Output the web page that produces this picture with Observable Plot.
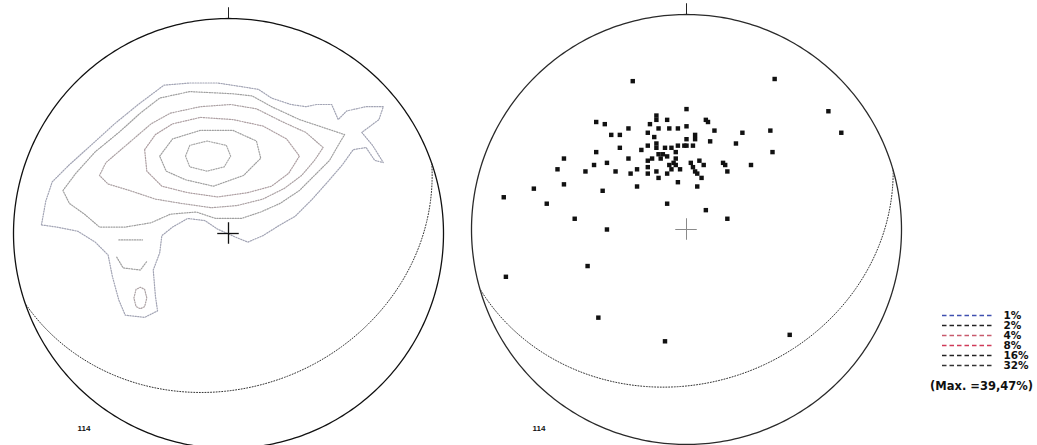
<!DOCTYPE html>
<html>
<head>
<meta charset="utf-8">
<script src="https://cdn.jsdelivr.net/npm/d3@7"></script>
<script src="https://cdn.jsdelivr.net/npm/@observablehq/plot@0.6"></script>
<style>
  html, body { margin: 0; padding: 0; background: #fff; width: 1037px; height: 445px; overflow: hidden; }
  #root { position: relative; width: 1037px; height: 445px; }
  .net { position: absolute; top: 0; }
  #legend { position: absolute; left: 930px; top: 305px; }
  #maxlabel { position: absolute; left: 930px; top: 379px; font: bold 11.5px "DejaVu Sans", sans-serif; color: #111; white-space: nowrap; }
</style>
</head>
<body>
<div id="root"></div>
<script>
// ---------------- data ----------------
const levels = ["1%", "2%", "4%", "8%", "16%", "32%"];
const legendColors = ["#3f4fb0", "#222222", "#c85a6c", "#d03a58", "#222222", "#333333"];
const contourColors = ["#a2a4b4", "#a0a0a0", "#aca2a4", "#ad9fa2", "#a0a0a0", "#a8a8a8"];
const maxLabel = "(Max. =39,47%)";
const countLabel = "114";

// plane (great circle) of each net: dip direction and dip, degrees
const planeDipDirection = [161, 164];
const planeDip = [29, 29];

// contour lines of the left net, in net units (radius = 100, north up)
const contour1 = [[-87,4],[-85,15],[-82,24],[-74,32],[-64,41],[-53,51],[-42,60],[-30,69],[-18,70],[-5,70],[8,68],[14,67],[20,63],[29,60],[36,59],[41,60],[48,60],[51,53],[55,57],[64,59],[72,59],[70,53],[62,47],[67,41],[72,33],[68,34],[64,40],[58,39],[53,32],[47,25],[39,16],[31,8],[24,4],[16,-1],[9,-4],[4,-2],[-5,2],[-11,6],[-19,7],[-26,3],[-31,-1],[-32,-9],[-35,-17],[-34,-29],[-33,-36],[-39,-39],[-48,-38],[-51,-31],[-54,-20],[-56,-10],[-62,-4],[-70,1],[-80,3]];
const contour2 = [[-77,20],[-71,28],[-62,38],[-51,47],[-41,56],[-32,63],[-18,66],[2,65],[11,64],[20,59],[33,53],[45,49],[54,46],[51,41],[47,34],[40,27],[33,20],[24,14],[15,10],[6,7],[-6,7],[-15,10],[-27,9],[-36,5],[-48,3],[-60,3],[-67,9],[-74,14]];
const contour4 = [[-27,56],[-13,59],[1,60],[13,58],[25,52],[36,47],[44,40],[40,34],[34,27],[26,21],[16,16],[4,13],[-8,12],[-22,14],[-34,16],[-46,20],[-56,23],[-60,27],[-57,33],[-50,39],[-43,45],[-36,51]];
const contour8 = [[-39,39],[-34,46],[-26,51],[-13,54],[2,53],[16,50],[27,44],[33,36],[28,28],[20,22],[9,19],[-5,17],[-19,19],[-31,22],[-38,29]];
const contour16 = [[-32,36],[-26,44],[-13,48],[2,48],[13,43],[15,35],[7,27],[-7,22],[-20,25],[-29,29]];
const contour32 = [[-20,36],[-18,41],[-10,43],[-1,41],[1,36],[-2,31],[-10,29],[-18,31]];
const tailOval = [[-44,-30],[-43,-26],[-41,-25],[-39,-26],[-38,-30],[-39,-34],[-41,-35],[-43,-34]];
const tailArc = [[-52,-11],[-49,-16],[-41,-17],[-38,-13]];
const tailDash = [[-51,-3],[-40,-3]];

// poles plotted in the right net, in net units (radius = 100, north up)
const poles = [[-25,69],[41,70],[66,55],[72,45],[0,56],[-42,50],[-38,49],[-14,53],[-14,51],[-9,51],[9,51],[10,50],[-27,47],[-17,49],[-13,47],[-8,47],[-4,47],[0,48],[13,46],[-35,44],[-31,44],[-18,45],[-15,43],[0,42],[4,44],[4,42],[11,41],[23,40],[26,45],[39,46],[40,36],[30,30],[-31,38],[-21,37],[-18,39],[-14,40],[-14,38],[-10,38],[-7,38],[-4,39],[-1,39],[0,39],[3,39],[-42,36],[-57,33],[-27,33],[-13,35],[-11,35],[-12,33],[-9,34],[-5,36],[-16,33],[-18,32],[-5,33],[-60,28],[-47,27],[-43,30],[-37,31],[-33,27],[-26,26],[-23,28],[-18,29],[-14,27],[-18,26],[-13,24],[-9,26],[-8,30],[-7,28],[-6,31],[-5,30],[-3,28],[2,31],[3,29],[6,32],[8,30],[4,27],[5,26],[7,24],[17,31],[18,30],[19,27],[-57,21],[-39,18],[-23,20],[-4,22],[5,20],[-65,12],[-9,12],[-85,15],[-71,19],[-52,5],[-37,0],[9,9],[19,5],[-46,-17],[-84,-22],[-41,-41],[-10,-52],[48,-49]];

// ---------------- helpers ----------------
const R = 100;
const rad = Math.PI / 180;
const primitive = d3.range(0, 360, 1).map(t => ({x: R * Math.sin(t * rad), y: R * Math.cos(t * rad)}));

// lower-hemisphere equal-area trace of a plane
function greatCircle(dipDir, dip) {
  const s = [Math.sin((dipDir - 90) * rad), Math.cos((dipDir - 90) * rad), 0];
  const d = [Math.cos(dip * rad) * Math.sin(dipDir * rad), Math.cos(dip * rad) * Math.cos(dipDir * rad), Math.sin(dip * rad)];
  return d3.range(0, 180.5, 1).map(a => {
    const c = Math.cos(a * rad), n = Math.sin(a * rad);
    const v = [c * s[0] + n * d[0], c * s[1] + n * d[1], c * s[2] + n * d[2]];
    const plunge = Math.asin(Math.max(-1, Math.min(1, v[2])));
    const trend = Math.atan2(v[0], v[1]);
    const r = Math.SQRT2 * Math.sin((Math.PI / 2 - plunge) / 2) * R;
    return {x: r * Math.sin(trend), y: r * Math.cos(trend)};
  });
}

const closedContours = [
  {level: "1%", pts: contour1}, {level: "2%", pts: contour2}, {level: "4%", pts: contour4},
  {level: "8%", pts: contour8}, {level: "16%", pts: contour16}, {level: "32%", pts: contour32},
  {level: "4%", pts: tailOval}
].flatMap((c, i) => c.pts.map(([x, y]) => ({x, y, id: i, level: c.level})));
const openContours = [
  {level: "2%", pts: tailArc}, {level: "2%", pts: tailDash}
].flatMap((c, i) => c.pts.map(([x, y]) => ({x, y, id: i, level: c.level})));
const contourColor = new Map(levels.map((l, i) => [l, contourColors[i]]));
const legendColor = new Map(levels.map((l, i) => [l, legendColors[i]]));
const poleRows = poles.map(([x, y]) => ({x, y}));

function frameMarks(dipDir, dip, crossColor, crossWidth, circleColor) {
  return [
    Plot.line(primitive, {x: "x", y: "y", curve: "linear-closed", stroke: circleColor, strokeWidth: 1.3}),
    Plot.line(greatCircle(dipDir, dip), {x: "x", y: "y", stroke: "#333", strokeWidth: 1, strokeDasharray: "1,1.8"}),
    Plot.ruleX([0], {y1: R, y2: R * 1.05, stroke: "#222", strokeWidth: 1}),
    Plot.ruleX([0], {y1: -5, y2: 5, stroke: crossColor, strokeWidth: crossWidth}),
    Plot.ruleY([0], {x1: -5, x2: 5, stroke: crossColor, strokeWidth: crossWidth})
  ];
}

const baseScales = {
  x: {domain: [-R, R], axis: null},
  y: {domain: [-R, R], axis: null}
};
const contourStyle = {strokeWidth: 1.2, strokeDasharray: "1.2,1.4"};
const countFont = {fontSize: 8, fontWeight: "bold", fill: "#111", fontFamily: "Liberation Sans Narrow, Liberation Sans, Arial, sans-serif"};

// ---------------- left net (contours) ----------------
const leftNet = Plot.plot({
  width: 460, height: 450,
  marginLeft: 13, marginRight: 17, marginTop: 18, marginBottom: 2,
  ...baseScales,
  style: {background: "transparent", overflow: "visible"},
  marks: [
    Plot.line(closedContours, {x: "x", y: "y", z: "id", curve: "linear-closed", stroke: d => contourColor.get(d.level), ...contourStyle}),
    Plot.line(openContours, {x: "x", y: "y", z: "id", stroke: d => contourColor.get(d.level), ...contourStyle}),
    ...frameMarks(planeDipDirection[0], planeDip[0], "#111", 1.3, "#111"),
    Plot.text([countLabel], {text: d => d, frameAnchor: "bottom-left", dx: 64, dy: -18, textAnchor: "start", ...countFont})
  ]
});

// ---------------- right net (poles) ----------------
const rightNet = Plot.plot({
  width: 460, height: 450,
  marginLeft: 14, marginRight: 16, marginTop: 14, marginBottom: 6,
  ...baseScales,
  style: {background: "transparent", overflow: "visible"},
  marks: [
    ...frameMarks(planeDipDirection[1], planeDip[1], "#8a8a8a", 1, "#2a2a2a"),
    Plot.dot(poleRows, {x: "x", y: "y", symbol: "square", r: 2.5, fill: "#111", stroke: "none"}),
    Plot.text([countLabel], {text: d => d, frameAnchor: "bottom-left", dx: 61, dy: -14, textAnchor: "start", ...countFont})
  ]
});

// ---------------- legend ----------------
const legend = Plot.plot({
  width: 107, height: 72,
  marginLeft: 0, marginRight: 0, marginTop: 0, marginBottom: 0,
  x: {domain: [0, 1], range: [12, 64], axis: null},
  y: {type: "point", domain: levels, range: [7.5, 62], padding: 0, axis: null},
  style: {background: "transparent", overflow: "visible"},
  marks: [
    Plot.ruleY(levels, {y: d => d, x1: 0, x2: 1, stroke: d => legendColor.get(d), strokeWidth: 1.3, strokeDasharray: "4.5,3"}),
    Plot.text(levels, {y: d => d, x: 1, dx: 9, text: d => d, textAnchor: "start", fontSize: 10.5, fontWeight: "bold", fill: "#111", fontFamily: "DejaVu Sans, sans-serif"})
  ]
});

const root = document.getElementById("root");
function place(node, left, cls) {
  const div = document.createElement("div");
  div.className = cls;
  div.style.left = left + "px";
  div.appendChild(node);
  root.appendChild(div);
  return div;
}
place(leftNet, 0, "net");
place(rightNet, 457, "net");
const lg = document.createElement("div");
lg.id = "legend";
lg.appendChild(legend);
root.appendChild(lg);
const ml = document.createElement("div");
ml.id = "maxlabel";
ml.textContent = maxLabel;
root.appendChild(ml);
</script>
</body>
</html>
